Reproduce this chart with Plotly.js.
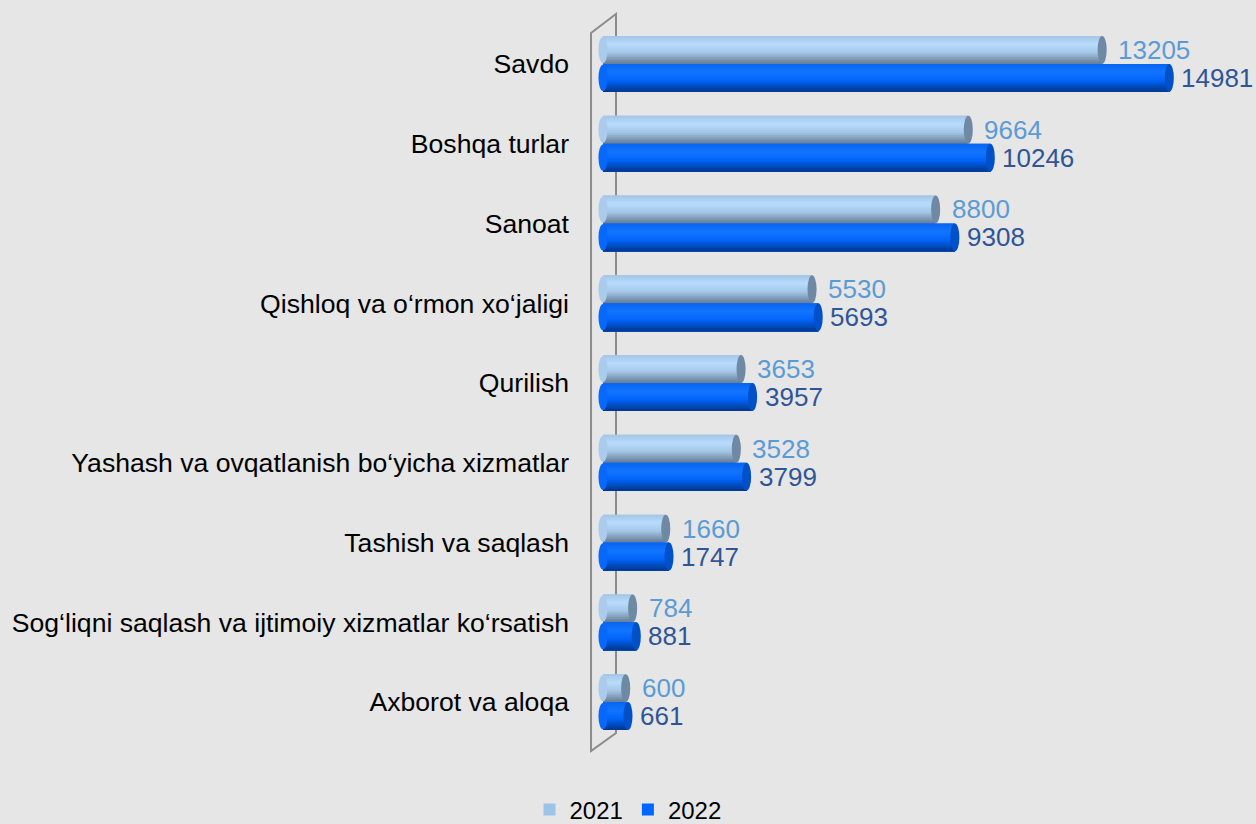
<!DOCTYPE html>
<html>
<head>
<meta charset="utf-8">
<script src="https://cdn.plot.ly/plotly-3.0.1.min.js"></script>
<style>html,body{margin:0;padding:0;background:#e6e6e6;}#chart{width:1256px;height:824px;}</style>
</head>
<body>
<div id="chart"></div>
<script>
const categories = [
  "Savdo",
  "Boshqa turlar",
  "Sanoat",
  "Qishloq va o‘rmon xo‘jaligi",
  "Qurilish",
  "Yashash va ovqatlanish bo‘yicha xizmatlar",
  "Tashish va saqlash",
  "Sog‘liqni saqlash va ijtimoiy xizmatlar ko‘rsatish",
  "Axborot va aloqa"
];
const values2021 = [13205, 9664, 8800, 5530, 3653, 3528, 1660, 784, 600];
const values2022 = [14981, 10246, 9308, 5693, 3957, 3799, 1747, 881, 661];
const seriesNames = ["2021", "2022"];

const FONT = "Liberation Sans, Arial, sans-serif";

// shading key colours (top -> bottom) for the cylinder look
const shade2021 = [[0, "#a4c5e5"], [0.3, "#b8dcfe"], [0.6, "#a3c4e5"], [1, "#647a92"]];
const shade2022 = [[0, "#0864f0"], [0.3, "#1275ff"], [0.6, "#0264f8"], [1, "#00358a"]];

function hex(c) { return [1, 3, 5].map(i => parseInt(c.substr(i, 2), 16)); }
function shadeAt(stops, t) {
  for (let i = 0; i < stops.length - 1; i++) {
    const [a, ca] = stops[i], [b, cb] = stops[i + 1];
    if (t <= b) {
      const f = (t - a) / (b - a), A = hex(ca), B = hex(cb);
      return "rgb(" + A.map((v, k) => Math.round(v + (B[k] - v) * f)).join(",") + ")";
    }
  }
  return stops[stops.length - 1][1];
}

const series = [
  {name: seriesNames[0], vals: values2021, legendColor: "#9dc3e6", labelColor: "#5b9bd5",
   shade: shade2021, cap: "#6f88a3", startCap: "#aacbeb", offset: -0.35, yshift: 14, xshift: 14},
  {name: seriesNames[1], vals: values2022, legendColor: "#0066ff", labelColor: "#2f5597",
   shade: shade2022, cap: "#0050c8", startCap: "#0668fc", offset: 0, yshift: -14, xshift: 10}
];

const traces = [];
const annotations = [];
const shapes = [];
const W = 0.35;
const N = 16;
const capHalf = 120;

series.forEach(s => {
  traces.push({
    type: "bar", orientation: "h", name: s.name, y: categories, x: s.vals,
    width: W, offset: s.offset, marker: {color: s.legendColor, line: {width: 0}},
    legendgroup: s.name, showlegend: true, hoverinfo: "x+name"
  });
  const sw = W / N;
  for (let k = 0; k < N; k++) {
    traces.push({
      type: "bar", orientation: "h", name: s.name, y: categories, x: s.vals,
      width: W - k * sw, offset: s.offset + k * sw,
      marker: {color: shadeAt(s.shade, (k + 0.5) / N), line: {width: 0}},
      legendgroup: s.name, showlegend: false, hoverinfo: "skip"
    });
  }
  s.vals.forEach((v, i) => {
    const yc = i + s.offset + W / 2;
    shapes.push({type: "circle", xref: "x", yref: "y", layer: "above",
      x0: v - capHalf, x1: v + capHalf, y0: yc - W / 2, y1: yc + W / 2,
      fillcolor: s.cap, line: {width: 0}});
    shapes.push({type: "circle", xref: "x", yref: "y", layer: "above",
      x0: -capHalf, x1: capHalf, y0: yc - W / 2 + 0.01, y1: yc + W / 2 - 0.01,
      fillcolor: s.startCap, line: {width: 0}});
    annotations.push({
      x: v, y: categories[i], xref: "x", yref: "y", text: String(v),
      showarrow: false, xanchor: "left", xshift: s.xshift, yshift: s.yshift,
      font: {family: FONT, size: 26, color: s.labelColor}
    });
  });
});

shapes.unshift({
  type: "path", xref: "paper", yref: "paper", layer: "below",
  path: "M -0.0107 0.9875 L 0.0276 1.0139 L 0.0276 0.0125 L -0.0107 -0.0125 Z",
  line: {color: "#8c8c8c", width: 2}, fillcolor: "rgba(0,0,0,0)"
});

const layout = {
  width: 1256, height: 824,
  paper_bgcolor: "#e6e6e6", plot_bgcolor: "rgba(0,0,0,0)",
  margin: {l: 598, r: 6, t: 24, b: 82},
  barmode: "overlay",
  font: {family: FONT, size: 24, color: "#000000"},
  xaxis: {range: [-132, 17116], visible: false, showgrid: false, zeroline: false},
  yaxis: {type: "category", autorange: "reversed", showgrid: false, zeroline: false,
          showline: false, ticks: "", ticklabelstandoff: 28,
          tickfont: {family: FONT, size: 26.6, color: "#000000"}},
  showlegend: true,
  legend: {orientation: "h", xref: "container", yref: "container", x: 0.5, y: 0.017,
           xanchor: "center", yanchor: "middle", font: {family: FONT, size: 24, color: "#000000"},
           bgcolor: "rgba(0,0,0,0)", itemwidth: 30, traceorder: "normal"},
  annotations: annotations,
  shapes: shapes
};

Plotly.newPlot("chart", traces, layout, {displayModeBar: false, staticPlot: true});
</script>
</body>
</html>
